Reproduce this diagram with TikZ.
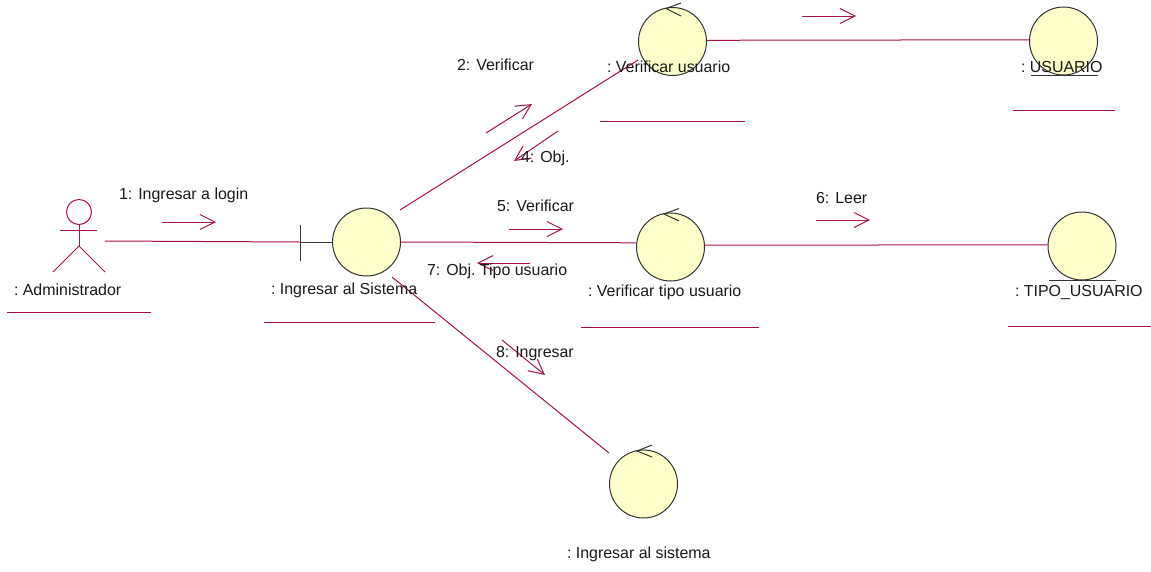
\documentclass[tikz,border=0pt]{standalone}
\usepackage{fontspec}
\setmainfont{Liberation Sans}
\usetikzlibrary{arrows.meta}
\definecolor{rosered}{HTML}{A8124C}
\definecolor{roseink}{HTML}{333333}
\definecolor{rosefill}{HTML}{FFFFCC}
\newcommand{\msgsep}{\hspace{6pt}}
\tikzset{
  x=1pt,y=-1pt,
  robust/.style={circle,draw=roseink,fill=rosefill,line width=1pt,inner sep=0pt,minimum size=68pt},
  rlink/.style={draw=rosered,line width=1pt},
  msgarrow/.style={draw=rosered,line width=1pt,-{Straight Barb[length=15pt,width=15pt,line width=1pt]}},
  underl/.style={draw=rosered,line width=1pt},
  inkline/.style={draw=roseink,line width=1pt},
  lbl/.style={anchor=base west,inner sep=0pt,outer sep=0pt,text=black!90,font=\fontsize{15.95}{18}\selectfont\frenchspacing},
}
\begin{document}
\begin{tikzpicture}
\useasboundingbox (0,0) rectangle (1151,571);
% free ends of connectors
\coordinate (actorhand) at (105,241);
\coordinate (bndtop) at (300,225);
\coordinate (bndmid) at (300,242);
\coordinate (bndbot) at (300,261);
\coordinate (sisUp) at (400,210);
\coordinate (vuEnd) at (638,60);
\coordinate (sisDown) at (392,277);
\coordinate (isEnd) at (609,453);
% robustness circles
\node[robust] (sis) at (366.5,242) {};
\node[robust] (vu) at (672.5,41.5) {};
\node[robust] (usr) at (1063.5,41) {};
\node[robust] (vt) at (670.5,247) {};
\node[robust] (tipo) at (1082,246) {};
\node[robust] (is) at (643.5,484) {};
% actor
\draw[rlink] (79,212) circle (12.5);
\draw[rlink] (60,230) -- (97,230);
\draw[rlink] (79,224.5) -- (79,246);
\draw[rlink] (53,272) -- (79,246) -- (105,272);
% boundary mark
\draw[inkline] (bndtop) -- (bndbot);
\draw[inkline] (bndmid) -- (sis.west);
% control marks
\draw[inkline] (681,3) -- (666,8.5) -- (681,16);
\draw[inkline] (679,208.5) -- (664,214) -- (679,221);
\draw[inkline] (652,445) -- (637,451) -- (652,457);
% entity marks
\draw[inkline] (1031,75) -- (1098,75);
\draw[inkline] (1049,280) -- (1116,280);
% links
\draw[rlink] (actorhand) -- (bndmid);
\draw[rlink] (sisUp) -- (vuEnd);
\draw[rlink] (vu.2) -- (usr.178);
\draw[rlink] (sis.east) -- (vt.173);
\draw[rlink] (vt.3) -- (tipo.178);
\draw[rlink] (sisDown) -- (isEnd);
% message arrows
\coordinate (m1a) at (162,222); \coordinate (m1b) at (216,222);
\coordinate (m2a) at (486,133); \coordinate (m2b) at (532,104);
\coordinate (m3a) at (802,16);  \coordinate (m3b) at (856,16);
\coordinate (m4a) at (558,131); \coordinate (m4b) at (514,161);
\coordinate (m5a) at (509,229); \coordinate (m5b) at (563,229);
\coordinate (m6a) at (816,220); \coordinate (m6b) at (870,220);
\coordinate (m7a) at (530,263); \coordinate (m7b) at (477,263);
\coordinate (m8a) at (502,340); \coordinate (m8b) at (545,375);
\draw[msgarrow] (m1a) -- (m1b);
\draw[msgarrow] (m2a) -- (m2b);
\draw[msgarrow] (m3a) -- (m3b);
\draw[msgarrow] (m4a) -- (m4b);
\draw[msgarrow] (m5a) -- (m5b);
\draw[msgarrow] (m6a) -- (m6b);
\draw[msgarrow] (m7a) -- (m7b);
\draw[msgarrow] (m8a) -- (m8b);
% underlines of names
\draw[underl] (7,312) -- (151,312);
\draw[underl] (264,322) -- (435,322);
\draw[underl] (600,121) -- (745,121);
\draw[underl] (581,327) -- (759,327);
\draw[underl] (1013,110) -- (1115,110);
\draw[underl] (1008,326) -- (1151,326);
% labels
\node[lbl] (tAdm) at (14,295.3) {: Administrador};
\node[lbl] (tSis) at (271,294.3) {: Ingresar al Sistema};
\node[lbl] (tVu) at (607,72.3) {: Verificar usuario};
\node[lbl] (tUsr) at (1021,72.3) {: USUARIO};
\node[lbl] (tVt) at (588,296.3) {: Verificar tipo usuario};
\node[lbl] (tTipo) at (1015,296.3) {: TIPO\_USUARIO};
\node[lbl] (tIs) at (567,558.3) {: Ingresar al sistema};
\node[lbl] (t1) at (119,199.3) {1:\msgsep Ingresar a login};
\node[lbl] (t2) at (457,70.3) {2:\msgsep Verificar};
\node[lbl] (t4) at (521,162.3) {4:\msgsep Obj.};
\node[lbl] (t5) at (497,211.3) {5:\msgsep Verificar};
\node[lbl] (t6) at (816,203.3) {6:\msgsep Leer};
\node[lbl] (t7) at (427,275.3) {7:\msgsep Obj. Tipo usuario};
\node[lbl] (t8) at (496,357.3) {8:\msgsep Ingresar};
\end{tikzpicture}
\end{document}
